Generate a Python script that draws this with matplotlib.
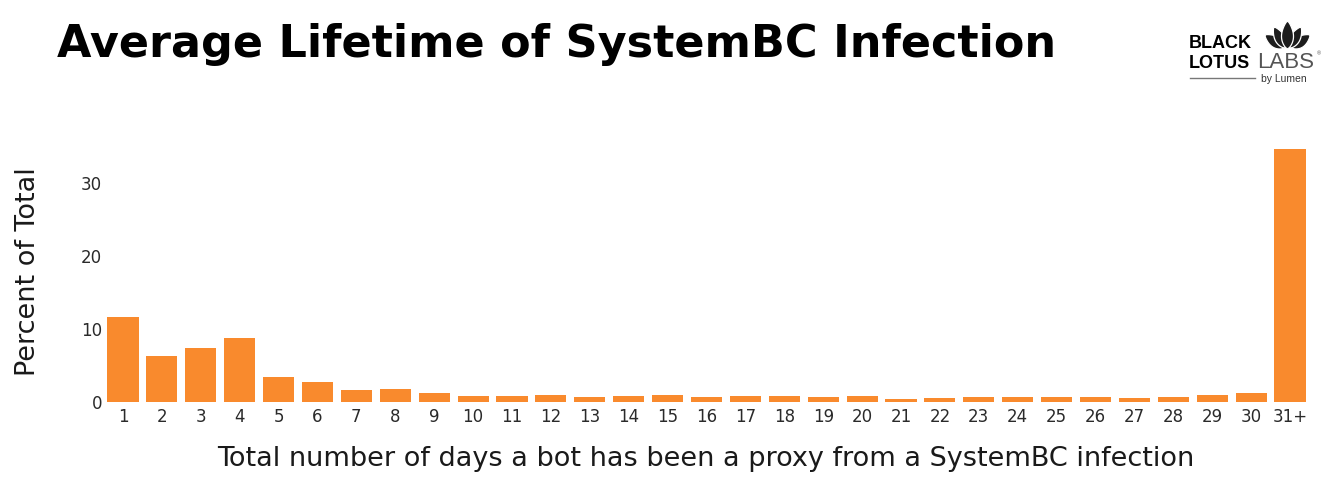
import numpy as np
import matplotlib.pyplot as plt
from matplotlib.patches import Polygon

# Data
days = [str(d) for d in range(1, 31)] + ['31+']
percent = [11.6, 6.3, 7.4, 8.7, 3.4, 2.8, 1.7, 1.8, 1.2, 0.85,
           0.85, 0.95, 0.7, 0.8, 0.95, 0.7, 0.8, 0.85, 0.75, 0.85,
           0.45, 0.6, 0.7, 0.65, 0.7, 0.75, 0.6, 0.7, 1.0, 1.2, 34.7]
yticks = [0, 10, 20, 30]

W, H = 1331, 490
fig = plt.figure(figsize=(W / 100, H / 100), dpi=100)
ax = fig.add_axes([103.5 / W, (H - 402) / H, 1206 / W, 266.5 / H])

ax.bar(range(len(days)), percent, width=0.8, color='#F98A2D')
ax.set_xlim(-0.5, len(days) - 0.5)
ax.set_ylim(0, 36.5)
ax.set_xticks(range(len(days)))
ax.set_xticklabels(days)
ax.set_yticks(yticks)
ax.tick_params(length=0, labelsize=12, colors='#2a2a2a', pad=4)
ax.tick_params(axis='y', pad=1)
for s in ax.spines.values():
    s.set_visible(False)

fig.text(28 / W, 1 - 272 / H, 'Percent of Total', fontsize=19.5, color='#1a1a1a',
         rotation=90, ha='center', va='center')
fig.text(706 / W, 1 - 459 / H,
         'Total number of days a bot has been a proxy from a SystemBC infection',
         fontsize=19.5, color='#1a1a1a', ha='center', va='center')

fig.text(57 / W, 1 - 45 / H, 'Average Lifetime of SystemBC Infection',
         fontsize=32, fontweight='heavy', color='black', va='center', ha='left')

# logo, drawn in pixel coordinates
lax = fig.add_axes([1180 / W, 1 - 90 / H, 151 / W, 80 / H])
lax.set_xlim(1180, 1331)
lax.set_ylim(90, 10)
lax.axis('off')
lax.text(1189, 48, 'BLACK', fontsize=13, fontweight='bold', family='Liberation Sans', va='baseline')
lax.text(1189, 68, 'LOTUS', fontsize=13, fontweight='bold', family='Liberation Sans', va='baseline')
lax.text(1257, 68, 'LABS', fontsize=16, color='#555555', family='Liberation Sans', va='baseline')
lax.text(1317, 55, '\u00ae', fontsize=4, color='#555555', family='Liberation Sans')
lax.text(1261, 82, 'by Lumen', fontsize=7.5, color='#333333', family='Liberation Sans', va='baseline')
lax.plot([1190, 1255], [78, 78], color='#777777', lw=1)


def petal(base, tip, w):
    base, tip = np.array(base, float), np.array(tip, float)
    d = tip - base
    n = np.array([-d[1], d[0]]) / np.hypot(*d)
    t = np.linspace(0, 1, 20)
    prof = w * np.sin(np.pi * t) ** 0.7 * (1 - 0.3 * t)
    left = base + np.outer(t, d) + np.outer(prof, n)
    right = base + np.outer(t, d) - np.outer(prof, n)
    return np.vstack([left, right[::-1]])


for b, tp, w in [((1284, 48), (1265, 35), 6.5), ((1292, 48), (1310, 35), 6.5),
                 ((1285, 48), (1274, 27), 6), ((1290, 48), (1301, 27), 6),
                 ((1287.5, 49), (1287.5, 21), 7)]:
    lax.add_patch(Polygon(petal(b, tp, w), closed=True, fc='#1c1c1c', ec='white', lw=0.9))

fig.savefig('out.png', dpi=100)
